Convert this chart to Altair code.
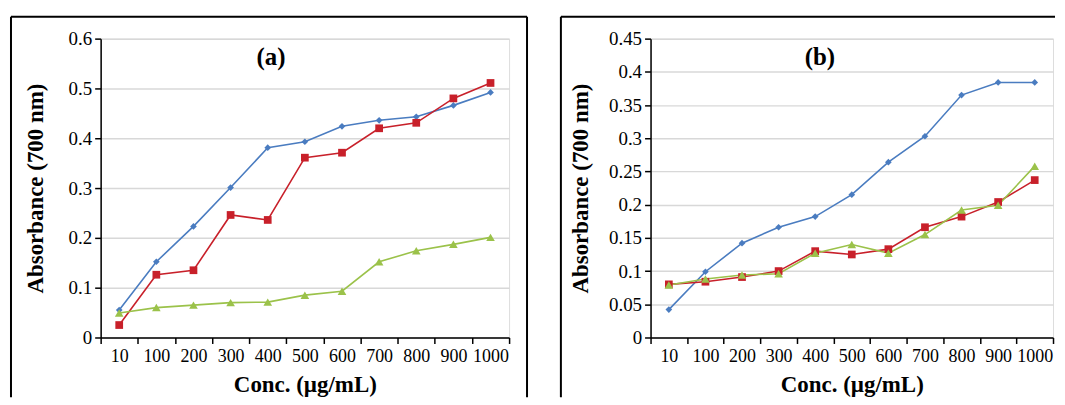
import altair as alt
import pandas as pd

conc = ["10", "100", "200", "300", "400", "500", "600", "700", "800", "900", "1000"]
series = ["Series 1", "Series 2", "Series 3"]
colors = ["#4a7cc0", "#c8202a", "#9bc24a"]
shapes = ["diamond", "square", "triangle-up"]

a_blue = [0.055, 0.152, 0.223, 0.301, 0.381, 0.393, 0.424, 0.436, 0.443, 0.466, 0.492]
a_red = [0.025, 0.126, 0.135, 0.246, 0.236, 0.361, 0.371, 0.420, 0.431, 0.480, 0.511]
a_green = [0.049, 0.060, 0.065, 0.070, 0.071, 0.085, 0.093, 0.152, 0.174, 0.187, 0.201]

b_blue = [0.042, 0.099, 0.142, 0.166, 0.182, 0.215, 0.264, 0.303, 0.365, 0.384, 0.384]
b_red = [0.080, 0.084, 0.091, 0.100, 0.130, 0.125, 0.133, 0.166, 0.182, 0.204, 0.237]
b_green = [0.079, 0.088, 0.094, 0.096, 0.127, 0.140, 0.127, 0.155, 0.192, 0.199, 0.258]

a_ticks = [0, 0.1, 0.2, 0.3, 0.4, 0.5, 0.6]
b_ticks = [0, 0.05, 0.1, 0.15, 0.2, 0.25, 0.3, 0.35, 0.4, 0.45]

FONT = "Liberation Serif"
H = 300


def make_df(vals):
    rows = []
    for s, v in zip(series, vals):
        for c, y in zip(conc, v):
            rows.append({"conc": c, "abs": y, "series": s})
    return pd.DataFrame(rows)


def panel(vals, ticks, ymax, label, width, label_x, ytitle_pad, frame_left, frame_right, right_border):
    df = make_df(vals)
    x = alt.X(
        "conc:N",
        sort=conc,
        bandPosition=0.5,
        scale=alt.Scale(type="band", domain=conc, paddingInner=0, paddingOuter=0),
        axis=alt.Axis(
            title="Conc. (µg/mL)",
            labelAngle=0,
            tickBand="extent",
            grid=False,
            domainColor="black",
            domainWidth=1.5,
            tickColor="black",
            tickWidth=1.5,
            tickSize=6,
            labelFont=FONT,
            labelFontSize=18,
            labelColor="black",
            labelPadding=4,
            titleFont=FONT,
            titleFontSize=23,
            titleFontWeight="bold",
            titleColor="black",
            titlePadding=8,
        ),
    )
    y = alt.Y(
        "abs:Q",
        scale=alt.Scale(domain=[0, ymax], nice=False, zero=True),
        axis=alt.Axis(
            title="Absorbance (700 nm)",
            values=ticks,
            format=".2~f",
            grid=True,
            gridColor="#d8d8d8",
            gridWidth=1.5,
            domainColor="black",
            domainWidth=1.5,
            tickColor="black",
            tickWidth=1.5,
            tickSize=6,
            labelFont=FONT,
            labelFontSize=19,
            labelColor="black",
            labelPadding=3,
            titleFont=FONT,
            titleFontSize=23,
            titleFontWeight="bold",
            titleColor="black",
            titlePadding=ytitle_pad,
        ),
    )
    color = alt.Color("series:N", scale=alt.Scale(domain=series, range=colors), legend=None)
    shape = alt.Shape("series:N", scale=alt.Scale(domain=series, range=shapes), legend=None)
    size = alt.Size("series:N", scale=alt.Scale(domain=series, range=[45, 75, 60]), legend=None)

    base = alt.Chart(df)
    lines = base.mark_line(strokeWidth=1.6).encode(x=x, y=y, color=color, detail="series:N")
    points = base.mark_point(filled=True, opacity=1).encode(
        x=x, y=y, color=color, shape=shape, size=size
    )
    one = pd.DataFrame({"k": [0]})
    top = alt.Chart(one).mark_rule(color="black", strokeWidth=2).encode(
        x=alt.value(frame_left), x2=alt.value(frame_right), y=alt.value(-22)
    )
    left = alt.Chart(one).mark_rule(color="black", strokeWidth=2).encode(
        x=alt.value(frame_left), y=alt.value(-22), y2=alt.value(360)
    )
    layers = [top, left]
    if right_border:
        right = alt.Chart(one).mark_rule(color="black", strokeWidth=2).encode(
            x=alt.value(frame_right), y=alt.value(-22), y2=alt.value(360)
        )
        layers.append(right)
    title = alt.Chart(pd.DataFrame({"t": [label]})).mark_text(
        font=FONT, fontSize=25, fontWeight="bold", color="black"
    ).encode(text="t:N", x=alt.value(label_x), y=alt.value(18))
    return alt.layer(*layers, lines, points, title).properties(width=width, height=H)


pa = panel([a_blue, a_red, a_green], a_ticks, 0.6, "(a)", 410, 171, 21, -90, 428, True)
pb = panel([b_blue, b_red, b_green], b_ticks, 0.45, "(b)", 404, 170, 16, -90, 406, False)

chart = alt.hconcat(pa, pb, spacing=30).properties(
    padding={"left": 1, "top": 6, "right": 0, "bottom": 0}
).configure_view(stroke=None).configure(background="white")

chart.save("out.html", embed_options={"renderer": "svg", "actions": False})
